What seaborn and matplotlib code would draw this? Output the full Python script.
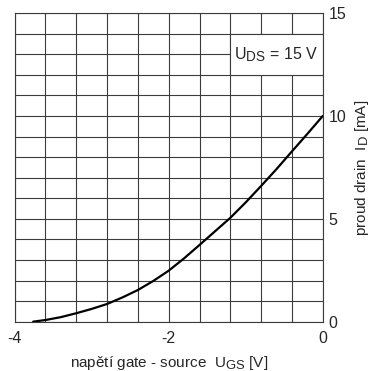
import matplotlib
matplotlib.use('Agg')
import matplotlib.pyplot as plt
import matplotlib._mathtext as mtext
import seaborn as sns
import pandas as pd
from matplotlib.patches import Rectangle

# odečtené body převodní charakteristiky
u_gs = [-3.76, -3.6, -3.4, -3.2, -3.0, -2.8, -2.6, -2.4, -2.2, -2.0, -1.8,
        -1.6, -1.4, -1.2, -1.0, -0.8, -0.6, -0.4, -0.2, 0.0]
i_d = [0.0, 0.08, 0.22, 0.41, 0.62, 0.86, 1.18, 1.54, 1.98, 2.48, 3.08,
       3.73, 4.39, 5.05, 5.8, 6.6, 7.42, 8.28, 9.13, 10.0]

x_ticks = [-4, -2, 0]
y_ticks = [0, 5, 10, 15]

sns.set_style('white')
plt.rcParams['font.family'] = ['Liberation Sans', 'DejaVu Sans']
plt.rcParams['mathtext.fontset'] = 'custom'
plt.rcParams['mathtext.rm'] = 'Liberation Sans'
plt.rcParams['mathtext.it'] = 'Liberation Sans'
# větší dolní index jako v předloze
mtext.SHRINK_FACTOR = 0.85

df = pd.DataFrame({'ugs': u_gs, 'id': i_d})

fig = plt.figure(figsize=(3.72, 3.71), dpi=100)
ax = fig.add_axes([0.0395, 0.133, 0.828, 0.8313])

grid_c = '#3c3c3c'
# mřížka 0.4 V x 1 mA
for k in range(11):
    ax.axvline(-4 + 0.4 * k, color=grid_c, lw=0.8, zorder=1)
for k in range(16):
    ax.axhline(k, color=grid_c, lw=0.8, zorder=1)

# bílé pole s popisem
ax.add_patch(Rectangle((-1.2, 12), 1.2, 2, facecolor='white',
                       edgecolor=grid_c, lw=0.8, zorder=2))
ax.text(-0.6, 13, r'$\mathregular{U_{DS}}$ = 15 V', ha='center', va='center',
        fontsize=11.5, zorder=3)

sns.lineplot(data=df, x='ugs', y='id', color='black', lw=1.6, ax=ax, zorder=4)

ax.set_xlim(-4, 0)
ax.set_ylim(0, 15)
ax.set_xticks(x_ticks)
ax.set_xticklabels([str(v) for v in x_ticks])
ax.set_yticks(y_ticks)
ax.set_yticklabels([str(v) for v in y_ticks])
ax.yaxis.tick_right()
ax.yaxis.set_label_position('right')
ax.tick_params(axis='both', length=0, labelsize=11.5)
ax.tick_params(axis='x', pad=7)
ax.tick_params(axis='y', pad=4)

for s in ax.spines.values():
    s.set_color(grid_c)
    s.set_linewidth(0.8)

ax.set_xlabel(r'napětí gate - source  $\mathregular{U_{GS}}$ [V]', fontsize=11, labelpad=5.5)
ax.set_ylabel(r'proud drain  $\mathregular{I_D}$ [mA]', fontsize=11, labelpad=5)

plt.savefig('out.png', dpi=100)
